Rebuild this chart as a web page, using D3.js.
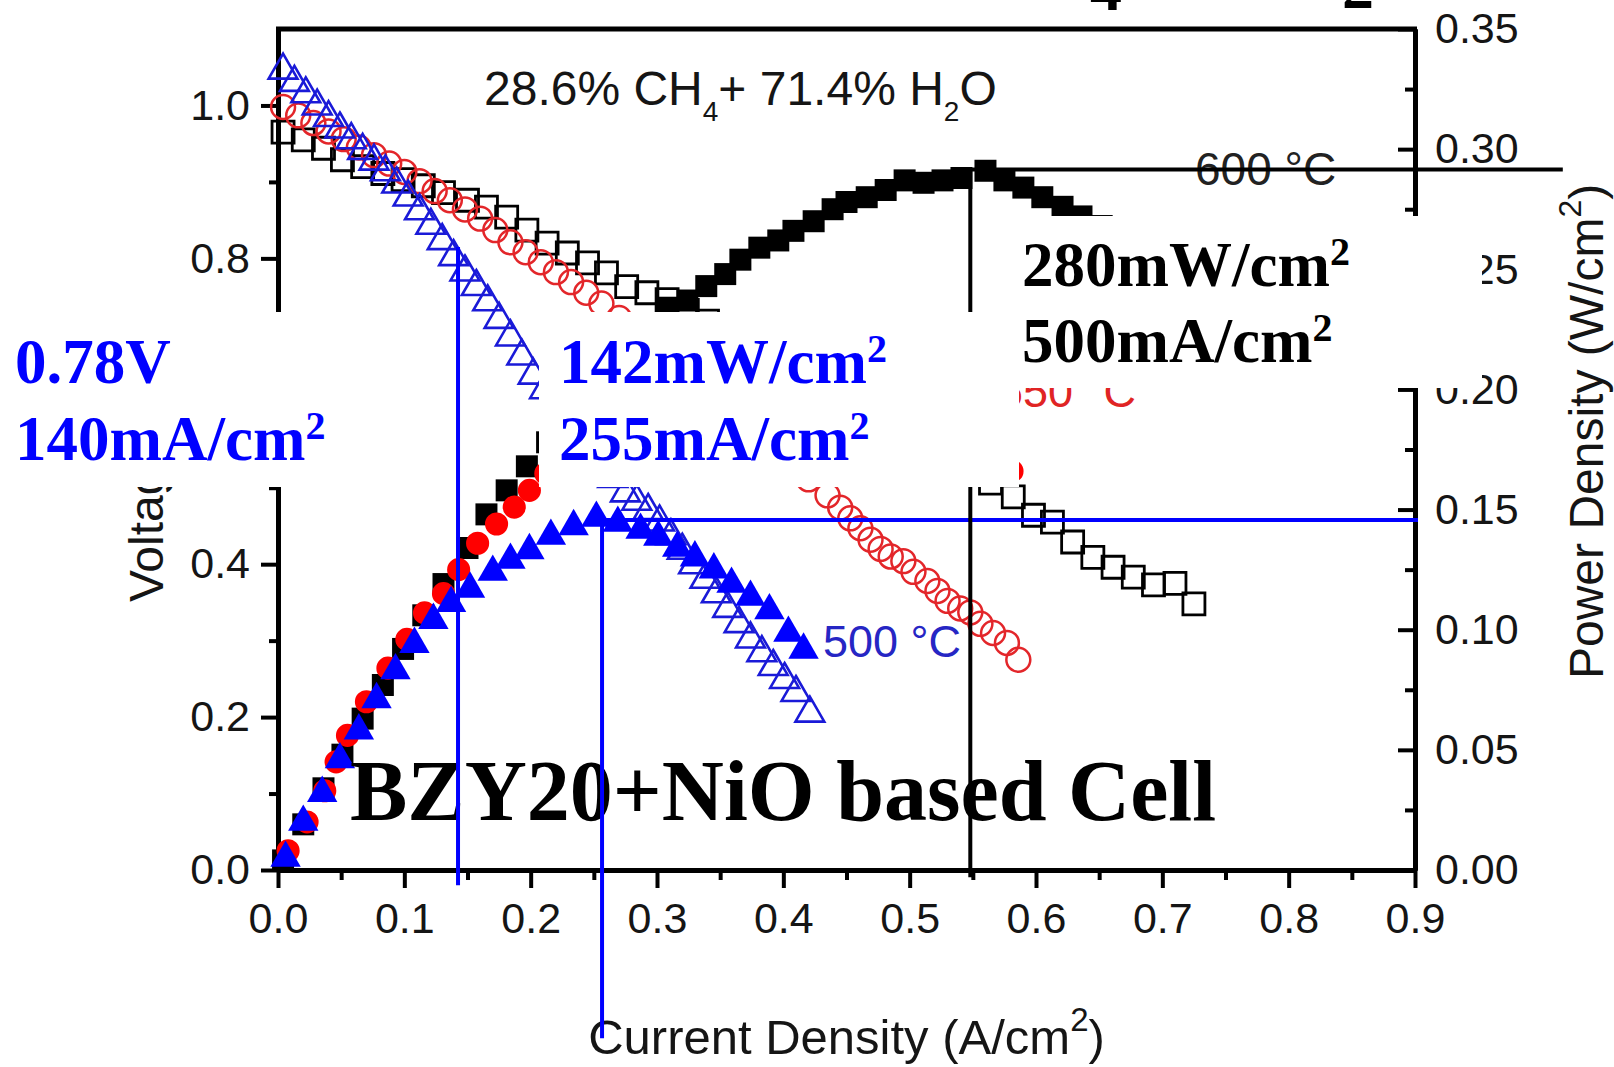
<!DOCTYPE html>
<html>
<head>
<meta charset="utf-8">
<script src="https://cdn.jsdelivr.net/npm/d3@7"></script>
<style>
  html, body { margin: 0; padding: 0; background: #fff; overflow: hidden; }
  svg { display: block; }
</style>
</head>
<body>
<script>
// ---- data (current density in A/cm2) ----
// 600 C voltage (open squares)
var v600I = [0.004,0.020,0.036,0.051,0.067,0.083,0.099,0.115,0.131,0.150,0.165,0.181,0.197,0.213,0.229,0.245,0.260,0.276,0.292,0.308,0.324,0.340,0.356,0.372,0.388,0.404,0.420,0.436,0.452,0.468,0.484,0.500,0.516,0.532,0.548,0.564,0.582,0.598,0.613,0.629,0.645,0.661,0.677,0.693,0.710,0.725];
var v600V = [0.965,0.955,0.944,0.929,0.920,0.911,0.903,0.895,0.886,0.876,0.867,0.854,0.837,0.820,0.807,0.794,0.781,0.763,0.755,0.746,0.732,0.718,0.702,0.688,0.672,0.657,0.642,0.628,0.612,0.598,0.583,0.567,0.552,0.537,0.521,0.506,0.488,0.464,0.455,0.429,0.409,0.396,0.383,0.373,0.375,0.348];
// 600 C power (filled squares)
var p600I = [0.004,0.020,0.036,0.051,0.067,0.083,0.099,0.115,0.131,0.150,0.165,0.181,0.197,0.213,0.229,0.245,0.260,0.276,0.292,0.308,0.324,0.339,0.354,0.366,0.381,0.396,0.408,0.424,0.439,0.450,0.466,0.481,0.496,0.511,0.526,0.541,0.560,0.575,0.590,0.605,0.621,0.636,0.652,0.668,0.684,0.700,0.716,0.730];
var p600P = [0.004,0.019,0.034,0.048,0.063,0.077,0.092,0.106,0.119,0.134,0.148,0.158,0.168,0.178,0.188,0.197,0.205,0.213,0.222,0.234,0.237,0.243,0.248,0.254,0.259,0.262,0.266,0.270,0.275,0.278,0.280,0.283,0.287,0.286,0.287,0.288,0.291,0.287,0.284,0.280,0.276,0.272,0.268,0.264,0.260,0.257,0.254,0.252];
// 650 C voltage (open circles)
var v650I = [0.004,0.016,0.028,0.040,0.052,0.064,0.076,0.088,0.100,0.112,0.124,0.136,0.148,0.160,0.172,0.184,0.196,0.208,0.220,0.232,0.244,0.256,0.270,0.285,0.300,0.315,0.330,0.345,0.360,0.375,0.390,0.405,0.420,0.435,0.445,0.453,0.461,0.469,0.477,0.485,0.495,0.503,0.514,0.522,0.530,0.540,0.548,0.556,0.566,0.577,0.586];
var v650V = [0.998,0.987,0.977,0.966,0.956,0.945,0.935,0.924,0.913,0.901,0.888,0.876,0.864,0.852,0.837,0.821,0.808,0.795,0.782,0.769,0.755,0.741,0.722,0.701,0.680,0.659,0.638,0.617,0.596,0.574,0.553,0.532,0.511,0.490,0.474,0.460,0.447,0.432,0.420,0.410,0.404,0.390,0.378,0.365,0.352,0.342,0.337,0.322,0.310,0.297,0.275];
// 650 C power (filled circles)
var p650I = [0.008,0.023,0.037,0.046,0.055,0.070,0.087,0.102,0.116,0.131,0.143,0.158,0.173,0.187,0.199,0.212,0.226,0.240,0.256,0.270,0.285,0.300,0.315,0.330,0.345,0.360,0.375,0.390,0.405,0.420,0.435,0.453,0.469,0.485,0.503,0.522,0.540,0.556,0.569,0.581];
var p650P = [0.008,0.020,0.033,0.045,0.056,0.070,0.084,0.096,0.107,0.115,0.125,0.136,0.144,0.151,0.158,0.165,0.172,0.178,0.184,0.190,0.195,0.200,0.204,0.207,0.210,0.212,0.213,0.213,0.212,0.210,0.208,0.205,0.200,0.196,0.192,0.187,0.181,0.176,0.171,0.166];
// 500 C voltage (open triangles)
var v500I = [0.004,0.013,0.022,0.031,0.040,0.049,0.058,0.067,0.076,0.085,0.094,0.103,0.112,0.121,0.130,0.139,0.148,0.157,0.166,0.175,0.184,0.193,0.202,0.211,0.220,0.229,0.238,0.247,0.256,0.265,0.275,0.284,0.293,0.302,0.311,0.320,0.329,0.338,0.347,0.356,0.365,0.374,0.383,0.392,0.401,0.410,0.421];
var v500V = [1.046,1.030,1.015,0.999,0.984,0.969,0.955,0.941,0.927,0.913,0.897,0.880,0.862,0.843,0.823,0.802,0.782,0.763,0.743,0.720,0.697,0.672,0.647,0.628,0.610,0.590,0.570,0.550,0.530,0.512,0.493,0.482,0.470,0.455,0.437,0.418,0.399,0.380,0.361,0.342,0.322,0.302,0.284,0.266,0.249,0.232,0.205];
// 500 C power (filled triangles)
var p500I = [0.006,0.020,0.035,0.049,0.064,0.078,0.093,0.108,0.123,0.137,0.152,0.170,0.184,0.199,0.216,0.234,0.252,0.269,0.287,0.301,0.316,0.330,0.345,0.359,0.374,0.389,0.404,0.416];
var p500P = [0.005,0.020,0.032,0.046,0.058,0.071,0.083,0.094,0.104,0.111,0.117,0.124,0.129,0.133,0.139,0.143,0.1465,0.1444,0.1415,0.1386,0.134,0.130,0.125,0.119,0.1136,0.108,0.0986,0.0916];

// guide points: [current, value]
var opPoint500 = [0.1425, 0.815];    // 0.78 V at 140 mA/cm2 (left axis)
var peak500 = [0.2565, 0.1457];      // 142 mW/cm2 (right axis)
var peak600 = [0.548, 0.2915];       // 280 mW/cm2 (right axis)

// ticks
var xTicks = [0, 0.1, 0.2, 0.3, 0.4, 0.5, 0.6, 0.7, 0.8, 0.9];
var xMinor = [0.05, 0.15, 0.25, 0.35, 0.45, 0.55, 0.65, 0.75, 0.85];
var vTicks = [0, 0.2, 0.4, 0.6, 0.8, 1.0];
var vMinor = [0.1, 0.3, 0.5, 0.7, 0.9];
var pTicks = [0, 0.05, 0.10, 0.15, 0.20, 0.25, 0.30, 0.35];
var pMinor = [0.025, 0.075, 0.125, 0.175, 0.225, 0.275, 0.325];

// ---- drawing ----
var width = 1614, height = 1067;
var sans = '"Liberation Sans", Arial, Helvetica, sans-serif';
var serif = '"Liberation Serif", "Times New Roman", Times, serif';
var blue = '#0000ff';

var svg = d3.select('body').append('svg')
  .attr('width', width).attr('height', height);

var x = d3.scaleLinear().domain([0, 0.9]).range([278, 1415]);
var yV = d3.scaleLinear().domain([0, 1.1]).range([870, 29]);
var yP = d3.scaleLinear().domain([0, 0.35]).range([870, 29]);

function styleAxis(g) {
  g.select('.domain').attr('stroke', '#000').attr('stroke-width', 5);
  g.selectAll('.tick line').attr('stroke', '#000').attr('stroke-width', 4);
  g.selectAll('.tick text').attr('font-family', sans).attr('font-size', 43).attr('fill', '#151515');
}

// axes
svg.append('line')
  .attr('x1', x(0) - 2).attr('x2', x(0.9) + 2)
  .attr('y1', yV(1.1)).attr('y2', yV(1.1))
  .attr('stroke', '#000').attr('stroke-width', 5);

svg.append('g').attr('transform', 'translate(0,' + yV(0) + ')')
  .call(d3.axisBottom(x).tickValues(xMinor).tickSize(10).tickSizeOuter(0).tickFormat(''))
  .call(styleAxis);
svg.append('g').attr('transform', 'translate(0,' + yV(0) + ')')
  .call(d3.axisBottom(x).tickValues(xTicks).tickSize(18).tickSizeOuter(0).tickPadding(14).tickFormat(d3.format('.1f')))
  .call(styleAxis);

svg.append('g').attr('transform', 'translate(' + x(0) + ',0)')
  .call(d3.axisLeft(yV).tickValues(vMinor).tickSize(9).tickSizeOuter(0).tickFormat(''))
  .call(styleAxis);
svg.append('g').attr('transform', 'translate(' + x(0) + ',0)')
  .call(d3.axisLeft(yV).tickValues(vTicks).tickSize(17).tickSizeOuter(0).tickPadding(11).tickFormat(d3.format('.1f')))
  .call(styleAxis);

svg.append('g').attr('transform', 'translate(' + x(0.9) + ',0)')
  .call(d3.axisRight(yP).tickValues(pMinor).tickSize(-10).tickSizeOuter(0).tickFormat(''))
  .call(styleAxis);
svg.append('g').attr('transform', 'translate(' + x(0.9) + ',0)')
  .call(d3.axisRight(yP).tickValues(pTicks).tickSize(-17).tickSizeOuter(0).tickPadding(20).tickFormat(d3.format('.2f')))
  .call(styleAxis);

// axis titles
var xt = svg.append('text')
  .attr('x', x(0.45)).attr('y', 1054)
  .attr('text-anchor', 'middle')
  .attr('font-family', sans).attr('font-size', 49).attr('fill', '#151515')
  .text('Current Density (A/cm');
xt.append('tspan').attr('font-size', 33).attr('dy', -23).text('2');
xt.append('tspan').attr('dy', 23).text(')');

svg.append('text')
  .attr('transform', 'translate(163,602) rotate(-90)')
  .attr('font-family', sans).attr('font-size', 48).attr('fill', '#151515')
  .text('Voltage (V)');

var pt = svg.append('text')
  .attr('transform', 'translate(1603,679) rotate(-90)')
  .attr('font-family', sans).attr('font-size', 48).attr('fill', '#151515')
  .text('Power Density (W/cm');
pt.append('tspan').attr('font-size', 32).attr('dy', -22).text('2');
pt.append('tspan').attr('dy', 22).text(')');

// series
function plot(I, Y, yScale, type, size, fill, stroke, sw) {
  svg.append('g').selectAll('path')
    .data(I.map(function(d, i) { return [d, Y[i]]; }))
    .join('path')
    .attr('transform', function(d) { return 'translate(' + x(d[0]) + ',' + yScale(d[1]) + ')'; })
    .attr('d', d3.symbol().type(type).size(size))
    .attr('fill', fill)
    .attr('stroke', stroke)
    .attr('stroke-width', sw);
}

plot(v600I, v600V, yV, d3.symbolSquare, 484, 'none', '#000', 2.8);
plot(p600I, p600P, yP, d3.symbolSquare, 484, '#000', 'none', 0);
plot(v650I, v650V, yV, d3.symbolCircle, 450, 'none', '#e3262a', 2.5);
plot(p650I, p650P, yP, d3.symbolCircle, 420, '#ff0000', 'none', 0);
plot(v500I, v500V, yV, d3.symbolTriangle, 360, 'none', '#1a1ad8', 2.6);
plot(p500I, p500P, yP, d3.symbolTriangle, 400, blue, 'none', 0);

// in-plot labels
svg.append('text')
  .attr('x', 350).attr('y', 820)
  .attr('font-family', serif).attr('font-weight', 'bold').attr('font-size', 86).attr('fill', '#000')
  .text('BZY20+NiO based Cell');

var gas = svg.append('text')
  .attr('x', 484).attr('y', 105)
  .attr('font-family', sans).attr('font-size', 48).attr('fill', '#151515')
  .text('28.6% CH');
gas.append('tspan').attr('font-size', 28).attr('dy', 16).text('4');
gas.append('tspan').attr('dy', -16).text('+ 71.4% H');
gas.append('tspan').attr('font-size', 28).attr('dy', 16).text('2');
gas.append('tspan').attr('dy', -16).text('O');

svg.append('text').attr('x', 1195).attr('y', 185)
  .attr('font-family', sans).attr('font-size', 46).attr('fill', '#222')
  .text('600 \u00b0C');
svg.append('text').attr('x', 823).attr('y', 657)
  .attr('font-family', sans).attr('font-size', 45).attr('fill', '#2626c4')
  .text('500 \u00b0C');
svg.append('text').attr('x', 998).attr('y', 407)
  .attr('font-family', sans).attr('font-size', 45).attr('fill', '#e02424')
  .text('650 \u00b0C');

// guide lines
function guide(x1, y1, x2, y2, color) {
  svg.append('line')
    .attr('x1', x1).attr('y1', y1).attr('x2', x2).attr('y2', y2)
    .attr('stroke', color).attr('stroke-width', 4);
}
guide(x(opPoint500[0]), yV(opPoint500[1]), x(opPoint500[0]), yV(-0.02), blue);
guide(x(peak500[0]), yP(peak500[1]), x(peak500[0]), yP(-0.07), blue);
guide(x(peak500[0]), yP(peak500[1]), x(0.9) + 3, yP(peak500[1]), blue);
guide(x(peak600[0]), yP(peak600[1]), x(peak600[0]), yP(-0.003), '#000');
guide(x(peak600[0] - 0.012), yP(peak600[1]), x(1.017), yP(peak600[1]), '#000');

// pasted-over white patches
var patches = [
  [0, 312, 455, 175],
  [539, 312, 480, 175],
  [975, 216, 507, 172]
];
svg.append('g').selectAll('rect').data(patches).join('rect')
  .attr('x', function(d) { return d[0]; })
  .attr('y', function(d) { return d[1]; })
  .attr('width', function(d) { return d[2]; })
  .attr('height', function(d) { return d[3]; })
  .attr('fill', '#fff');

function note(xp, yp, main, color) {
  var t = svg.append('text')
    .attr('x', xp).attr('y', yp)
    .attr('font-family', serif).attr('font-weight', 'bold')
    .attr('font-size', 63).attr('fill', color)
    .text(main);
  return t;
}
function unit(t) {
  t.append('tspan').attr('font-size', 40).attr('dy', -21).text('2');
}
note(15, 383, '0.78V', blue);
unit(note(15, 460, '140mA/cm', blue));
unit(note(559, 383, '142mW/cm', blue));
unit(note(559, 460, '255mA/cm', blue));
unit(note(1022, 286, '280mW/cm', '#000'));
unit(note(1022, 362, '500mA/cm', '#000'));

// cropped title remnants at the very top
svg.append('text').attr('x', 1106).attr('y', 10).attr('text-anchor', 'middle')
  .attr('font-family', serif).attr('font-weight', 'bold').attr('font-size', 64).text('4');
svg.append('text').attr('x', 1358).attr('y', 8).attr('text-anchor', 'middle')
  .attr('font-family', serif).attr('font-weight', 'bold').attr('font-size', 64).text('2');
</script>
</body>
</html>
